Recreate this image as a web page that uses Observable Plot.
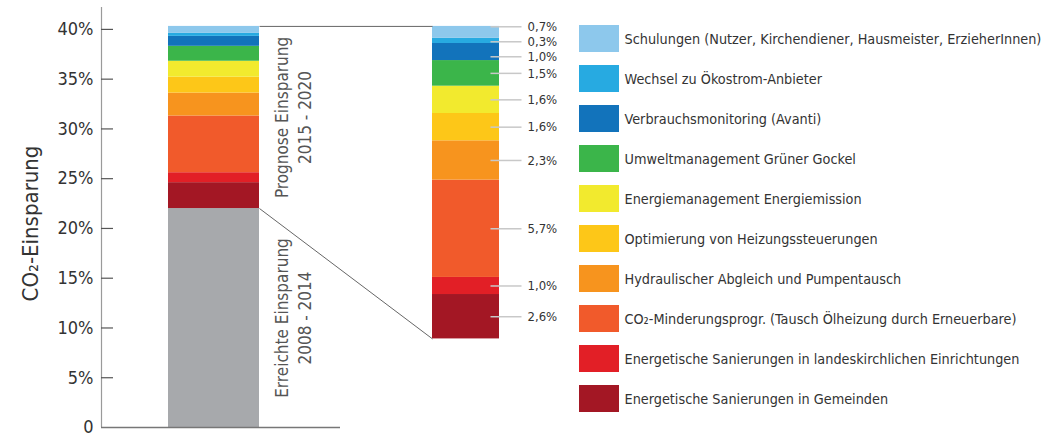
<!DOCTYPE html>
<html>
<head>
<meta charset="utf-8">
<script src="https://cdn.jsdelivr.net/npm/d3@7"></script>
<script src="https://cdn.jsdelivr.net/npm/@observablehq/plot@0.6"></script>
<style>
  body { margin: 0; background: #fff; }
  #chart { position: relative; width: 1043px; height: 436px; overflow: hidden;
           font-family: "DejaVu Sans Condensed", "DejaVu Sans", sans-serif; font-stretch: condensed; }
  #chart > svg { position: absolute; top: 0; }
</style>
</head>
<body>
<div id="chart"></div>
<script>
// ---- data (bottom of the stack first) ----
const measures = [
  "Energetische Sanierungen in Gemeinden",
  "Energetische Sanierungen in landeskirchlichen Einrichtungen",
  "CO₂-Minderungsprogr. (Tausch Ölheizung durch Erneuerbare)",
  "Hydraulischer Abgleich und Pumpentausch",
  "Optimierung von Heizungssteuerungen",
  "Energiemanagement Energiemission",
  "Umweltmanagement Grüner Gockel",
  "Verbrauchsmonitoring (Avanti)",
  "Wechsel zu Ökostrom-Anbieter",
  "Schulungen (Nutzer, Kirchendiener, Hausmeister, ErzieherInnen)"
];
const values = [2.6, 1.0, 5.7, 2.3, 1.6, 1.6, 1.5, 1.0, 0.3, 0.7];
const colors = ["#a31724", "#e21f26", "#f15a2b", "#f7941e", "#fdc718",
                "#f2ea2e", "#3bb54a", "#1273bb", "#27aae1", "#8dc8ec"];
const achieved = 22.0;
const achievedColor = "#a7a9ac";
const achievedLabel = "Erreichte Einsparung\n2008 - 2014";
const forecastLabel = "Prognose Einsparung\n2015 - 2020";
const yTicks = [0, 5, 10, 15, 20, 25, 30, 35, 40];
const yTitle = "CO₂-Einsparung";

// ---- layout ----
const font = '"DejaVu Sans Condensed", "DejaVu Sans", sans-serif';
const H = 436, mainW = 570, mL = 101, mT = 7, mB = 9;
const yMax = 42.2;
const leftBar = [67, 158], rightBar = [331, 398];
const zoomBottom = 8.9; // lower end of the exploded bar, in left-axis units
const total = d3.sum(values);
const stackTop = achieved + total;
const zoom = c => zoomBottom + (c / total) * (stackTop - zoomBottom);
const pxPerUnit = (H - mT - mB) / yMax;

let cum = 0;
const rows = measures.map((m, i) => {
  const c0 = cum; cum += values[i];
  return {measure: m, value: values[i],
          ly1: achieved + c0, ly2: achieved + cum,
          ry1: zoom(c0), ry2: zoom(cum), rmid: zoom((c0 + cum) / 2)};
});
// spread label positions apart a little where they collide
const minGap = 15 / pxPerUnit;
rows.forEach(r => r.labelY = r.rmid);
for (let it = 0; it < 100; it++) {
  for (let i = 0; i < rows.length - 1; i++) {
    const a = rows[i], b = rows[i + 1];
    const gap = b.labelY - a.labelY;
    if (gap < minGap) { const p = (minGap - gap) / 2; a.labelY -= p; b.labelY += p; }
  }
}
const fmt = v => v.toFixed(1).replace(".", ",") + "%";

const main = Plot.plot({
  width: mainW, height: H,
  marginLeft: mL, marginRight: 0, marginTop: mT, marginBottom: mB,
  style: {fontFamily: font, background: "transparent", color: "#333", overflow: "visible"},
  x: {domain: [0, mainW - mL], axis: null},
  y: {domain: [0, yMax], axis: null},
  color: {domain: measures, range: colors},
  marks: [
    Plot.axisY({ticks: yTicks, tickSize: 0, tickPadding: 8, fontSize: 18, label: null,
                tickFormat: d => d === 0 ? "0" : d + "%"}),
    Plot.rect([achieved], {x1: () => leftBar[0], x2: () => leftBar[1], y1: () => 0, y2: d => d, fill: achievedColor}),
    Plot.rect(rows, {x1: () => leftBar[0], x2: () => leftBar[1], y1: "ly1", y2: "ly2", fill: "measure"}),
    Plot.rect(rows, {x1: () => rightBar[0], x2: () => rightBar[1], y1: "ry1", y2: "ry2", fill: "measure"}),
    Plot.ruleX([0], {y1: () => 0, y2: () => yMax, stroke: "#9a9a9a", strokeWidth: 1.2}),
    Plot.ruleY(yTicks.filter(d => d > 0), {x1: () => 0, x2: () => 12, stroke: "#555", strokeWidth: 1.2}),
    Plot.ruleY([0], {x1: () => 0, x2: () => 239, stroke: "#777", strokeWidth: 1.4}),
    Plot.link([{x1: leftBar[1], y1: stackTop, x2: rightBar[0], y2: stackTop},
               {x1: leftBar[1], y1: achieved, x2: rightBar[0], y2: zoomBottom}],
              {x1: "x1", y1: "y1", x2: "x2", y2: "y2", stroke: "#666", strokeWidth: 1}),
    Plot.link(rows, {x1: () => rightBar[1] - 9, x2: () => rightBar[1] + 22, y1: "labelY", y2: "labelY",
                     stroke: "#c8c8c8", strokeWidth: 1.5}),
    Plot.text(rows, {x: () => rightBar[1] + 28, y: "labelY", text: d => fmt(d.value),
                     textAnchor: "start", fontSize: 13, fill: "#333"}),
    Plot.text([forecastLabel], {x: () => leftBar[1] + 32.5, y: () => achieved + total / 2, text: d => d,
                                rotate: -90, textAnchor: "middle", lineAnchor: "middle", lineHeight: 1.35,
                                fontSize: 17, fill: "#555"}),
    Plot.text([achievedLabel], {x: () => leftBar[1] + 32.5, y: () => achieved / 2, text: d => d,
                                rotate: -90, textAnchor: "middle", lineAnchor: "middle", lineHeight: 1.35,
                                fontSize: 17, fill: "#555"}),
    Plot.text([yTitle], {frameAnchor: "left", text: d => d, rotate: -90, textAnchor: "middle",
                         lineAnchor: "middle", dx: -71, dy: 6, fontSize: 22, fill: "#333"})
  ]
});
main.style.left = "0px";

const legendRows = rows.slice().reverse();
const legend = Plot.plot({
  width: 1043 - mainW, height: H,
  marginLeft: 0, marginRight: 0, marginTop: 0, marginBottom: 0,
  style: {fontFamily: font, background: "transparent", color: "#333", overflow: "visible"},
  x: {domain: [0, 1043 - mainW], axis: null},
  y: {type: "band", domain: legendRows.map(d => d.measure), range: [25, 412],
      paddingInner: 0.325, paddingOuter: 0, axis: null},
  color: {domain: measures, range: colors},
  marks: [
    Plot.barX(legendRows, {x1: () => 9, x2: () => 49, y: "measure", fill: "measure"}),
    Plot.text(legendRows, {x: () => 54, y: "measure", text: "measure", textAnchor: "start",
                           fontSize: 14.3, fill: "#333"})
  ]
});
legend.style.left = mainW + "px";

document.getElementById("chart").append(main, legend);
</script>
</body>
</html>
